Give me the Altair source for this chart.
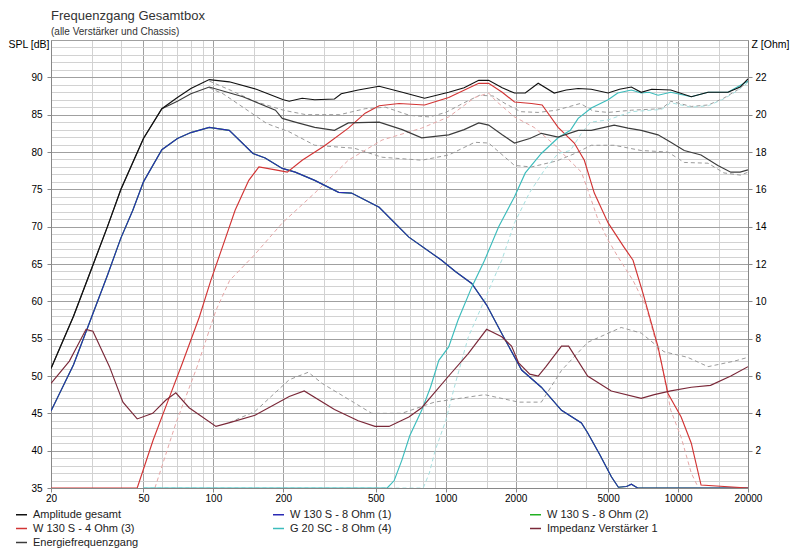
import altair as alt
import pandas as pd

# ---------------- data ----------------
SERIES = ["Amplitude gesamt", "W 130 S - 8 Ohm (1)", "W 130 S - 8 Ohm (2)",
          "W 130 S - 4 Ohm (3)", "G 20 SC - 8 Ohm (4)", "Impedanz Verstärker 1",
          "Energiefrequenzgang"]
COLORS = ["#111111", "#2a2ab4", "#22b022", "#d23434", "#3cbcbc", "#7a2838", "#3c3c3c"]

AMP_F = [20, 25, 30, 35, 40, 50, 60, 70, 80, 96, 117, 153, 200, 212, 241, 273, 332, 355, 420, 517,
         650, 811, 1030, 1200, 1387, 1530, 1750, 1977, 2200, 2500, 2930, 3300, 3716, 4230, 5000,
         5600, 6296, 6940, 7700, 9305, 11400, 13460, 16400, 18500, 20000]
AMP_V = [51, 58, 64.5, 70, 75, 81.8, 85.8, 87.3, 88.5, 89.7, 89.4, 88.4, 87.0, 86.8, 87.2, 87.0, 87.1, 87.8, 88.3, 88.8,
         88.0, 87.2, 88.0, 88.6, 89.6, 89.6, 88.6, 87.9, 87.9, 89.2, 87.9, 88.3, 88.5, 88.4, 87.9,
         88.4, 88.7, 88.0, 88.4, 88.3, 87.4, 88.0, 88.0, 88.7, 89.8]

ENE_F = [20, 25, 30, 35, 40, 50, 60, 70, 80, 96, 134, 185, 198, 225, 273, 332, 381, 517, 650, 788,
         1030, 1200, 1387, 1530, 1750, 1977, 2300, 2579, 3046, 3716, 4230, 5310, 6090, 6940, 8200,
         9305, 10630, 12560, 14840, 16870, 18500, 20000]
ENE_V = [51, 58, 64.5, 70, 75, 81.8, 85.8, 86.8, 87.8, 88.7, 87.4, 85.6, 84.5, 84.0, 83.3, 82.9, 83.9, 84.0, 83.0, 81.9,
         82.3, 83.0, 83.9, 83.6, 82.3, 81.2, 81.8, 82.5, 82.0, 82.9, 82.9, 83.6, 83.2, 82.9, 82.3,
         81.3, 80.2, 79.6, 78.2, 77.3, 77.3, 77.6]

W1_F = [20, 25, 30, 35, 40, 45, 50, 60, 70, 80, 96, 117, 148, 167, 198, 225, 273, 346, 393, 517,
        694, 960, 1100, 1294, 1500, 1742, 2122, 2579, 3150, 3838, 4080, 4600, 5164, 5534, 6000,
        6296, 6700, 20000]
W1_V = [45.3, 51.5, 58, 63.5, 68.5, 72.2, 76, 80.3, 81.8, 82.6, 83.3, 82.9, 79.8, 79.2, 77.8, 77.3, 76.2, 74.6, 74.5, 72.6,
        68.6, 65.5, 64.0, 62.4, 59.5, 55.7, 50.8, 48.5, 45.4, 43.7, 42.4, 39.5, 36.5, 35.1, 35.2,
        35.5, 35.0, 35.0]

W3_F = [20, 47, 55, 64, 73.5, 87, 97.5, 110, 124, 142, 157, 185, 208, 241, 300, 381, 450, 517,
        630, 811, 1030, 1387, 1530, 1750, 1977, 2340, 2600, 3046, 3575, 3950, 4360, 5000, 5840,
        6400, 7060, 8200, 9040, 10310, 11400, 12560, 20000]
W3_V = [35, 35, 41.4, 46.8, 51.7, 57.9, 62.8, 67.5, 72.2, 76.2, 78.0, 77.6, 77.3, 78.9, 80.8, 83.2, 85.2, 86.2,
        86.5, 86.3, 87.3, 89.2, 89.2, 88.0, 86.7, 86.5, 86.3, 83.3, 81.2, 78.9, 74.5, 70.5, 67.3,
        65.5, 61.1, 53.9, 47.7, 44.5, 41.0, 35.4, 35.0]

G4_F = [50, 560, 600, 647, 700, 788, 860, 934, 1030, 1130, 1294, 1470, 1690, 1977, 2200, 2579,
        3046, 3440, 3716, 4230, 5000, 5500, 6296, 6940, 7500, 8200, 9305, 11400, 13460, 16400, 20000]
G4_V = [35, 35, 36, 38.7, 42, 45.4, 48.5, 52.1, 53.9, 57.5, 61.9, 65.5, 70, 74, 77.2, 79.8,
        81.9, 82.9, 84.5, 85.9, 87.0, 87.9, 88.3, 87.9, 88.0, 87.6, 88.0, 87.4, 88.0, 88.0, 89.5]

IMP_F = [20, 24, 28.3, 30.3, 35.7, 40.8, 47, 54.8, 62.3, 68.9, 78.6, 102.6, 117.5, 151, 212, 246,
         332, 420, 496, 570, 694, 788, 1030, 1250, 1500, 1742, 1920, 2060, 2300, 2500, 2700, 3150,
         3380, 4080, 5160, 6940, 7900, 9305, 11400, 13800, 16870, 20000]
IMP_Z = [5.6, 6.8, 8.5, 8.4, 6.5, 4.6, 3.7, 4.0, 4.7, 5.1, 4.3, 3.3, 3.5, 3.9, 4.9, 5.2,
         4.2, 3.6, 3.3, 3.3, 3.8, 4.3, 6.0, 7.2, 8.5, 8.1, 7.6, 6.7, 6.1, 6.0, 6.5, 7.6,
         7.6, 6.0, 5.2, 4.8, 5.0, 5.2, 5.4, 5.5, 6.0, 6.5]

# dashed comparison curves (no legend entry)
DU_F = [96, 120, 150, 200, 250, 350, 450, 550, 700, 850, 1000, 1200, 1400, 1600, 1800, 2100, 2500,
        3000, 3800, 4300, 5000, 6300, 8500, 9300, 11400, 13500, 15700, 18000, 20000]
DU_V = [89.5, 88.2, 86.8, 85.6, 85.0, 85.0, 85.8, 86.0, 84.9, 84.7, 85.3, 86.6, 87.6, 87.5, 86.5, 85.4, 85.3,
        85.6, 86.5, 85.5, 85.3, 85.6, 85.8, 86.8, 86.1, 86.3, 87.2, 88.3, 89.4]

DL_F = [96, 110, 134, 170, 212, 273, 405, 532, 788, 1030, 1333, 1530, 1977, 2340, 3000, 3600, 4230,
        5310, 6940, 9040, 10630, 13460, 15740, 18600, 20000]
DL_V = [88.6, 87.8, 86.0, 83.8, 82.7, 80.9, 80.5, 79.3, 78.9, 79.6, 81.3, 81.2, 78.2, 78.0, 78.8, 79.8, 80.9,
        80.9, 80.2, 80.0, 78.6, 78.5, 77.2, 76.9, 77.3]

DP_F = [56, 69, 85, 102.6, 117.5, 150, 198, 273, 381, 532, 788, 1030, 1333, 1530, 1650, 1977, 2400,
        2930, 3380, 3838, 4230, 4530, 5000, 5500, 6400, 7300, 8437, 9305, 10310, 11400, 12200]
DP_V = [35, 43.7, 51.2, 58.8, 62.8, 66.2, 70.5, 74.5, 78.9, 81.6, 83.2, 84.7, 87.3, 87.9, 86.8, 84.7, 83.3,
        81.0, 79.0, 77.3, 73.6, 70.9, 68.2, 66.0, 62.8, 59.2, 52.1, 45.4, 41.8, 37.0, 35.1]

DC_F = [50, 800, 850, 900, 1000, 1100, 1250, 1470, 1742, 1977, 2290, 2660, 3046, 3440, 3838, 4200,
        5000, 6300, 8500, 9300, 11400, 13500, 15700, 18000, 20000]
DC_V = [35, 35, 37, 40, 44, 49, 55.2, 60.2, 65.5, 70.5, 74.5, 77.6, 79.8, 80.2, 82.5, 84.0,
        84.3, 85.4, 85.7, 86.6, 86.0, 86.2, 87.1, 88.2, 89.3]

DZ_F = [117, 151, 212, 256, 294, 400, 480, 647, 894, 1470, 2060, 2579, 3150, 4080, 5690, 6940, 8700,
        11000, 13460, 17500, 20000]
DZ_Z = [3.5, 4.1, 5.8, 6.2, 5.6, 4.6, 4.0, 4.0, 4.6, 5.0, 4.6, 4.6, 6.3, 7.8, 8.6, 8.3, 7.3,
        7.0, 6.5, 6.8, 7.0]

XGRID = [20, 30, 40, 50, 60, 70, 80, 90, 100, 150, 200, 300, 400, 500, 600, 700, 800, 900,
         1000, 1500, 2000, 3000, 4000, 5000, 6000, 7000, 8000, 9000, 10000, 15000, 20000]
XLAB = [20, 50, 100, 200, 500, 1000, 2000, 5000, 10000, 20000]
YGRID = list(range(35, 96))
ZTICKS = [2, 4, 6, 8, 10, 12, 14, 16, 18, 20, 22]

# ---------------- chart ----------------
FONT = "Liberation Sans, Arial, sans-serif"
xlab_arr = "[" + ",".join(str(v) for v in XLAB) + "]"
xtest = "indexof(" + xlab_arr + ", datum.value) >= 0"
MAJOR = "#a0a0a0"
MINOR = "#d2d2d2"

X = alt.X("f:Q", title=None,
          scale=alt.Scale(type="log", domain=[20, 20000], nice=False),
          axis=alt.Axis(values=XGRID, format="d", labelExpr=xtest + " ? datum.label : ''",
                        labelFlush=False, labelPadding=1, tickSize=4,
                        gridColor={"condition": {"test": xtest, "value": MAJOR}, "value": MINOR},
                        tickOpacity={"condition": {"test": xtest, "value": 1}, "value": 0}))

ytest = "datum.value % 5 == 0"
Y = alt.Y("v:Q", scale=alt.Scale(domain=[35, 95], nice=False, zero=False),
          axis=alt.Axis(values=YGRID, title="SPL [dB]", titleAngle=0, titleAlign="right",
                        titleBaseline="middle", titleX=-2, titleY=4, titleFontSize=10.5,
                        titleFontWeight="normal",
                        labelExpr=ytest + " && datum.value < 95 ? datum.label : ''",
                        labelPadding=5, tickSize=4,
                        gridColor={"condition": {"test": ytest, "value": MAJOR}, "value": MINOR},
                        tickOpacity={"condition": {"test": ytest + " && datum.value < 95", "value": 1}, "value": 0}))

Z = alt.Y("z:Q", scale=alt.Scale(domain=[0, 24], nice=False),
          axis=alt.Axis(orient="right", values=ZTICKS, grid=False, title="Z [Ohm]", titleAngle=0,
                        titleAlign="left", titleBaseline="middle", titleX=3, titleY=4,
                        titleFontSize=10.5, titleFontWeight="normal",
                        labelPadding=3, tickSize=4))

COLOR = alt.Color("series:N", scale=alt.Scale(domain=SERIES, range=COLORS),
                  legend=alt.Legend(orient="none", legendX=-36, legendY=468, columns=3,
                                    direction="horizontal",
                                    gridAlign="all", columnPadding=126, rowPadding=2,
                                    symbolType="stroke", symbolSize=121, symbolStrokeWidth=1.5,
                                    labelFont=FONT, labelFontSize=11, labelColor="#222222",
                                    labelOffset=5, labelLimit=300, title=None, padding=0))


def solid(f, v, name, col="v", enc=None, width=1.15):
    df = pd.DataFrame({"f": f, col: v, "series": name})
    return alt.Chart(df).mark_line(strokeWidth=width, clip=True).encode(
        x=X, y=enc if enc is not None else Y, color=COLOR)


def dashed(f, v, stroke, col="v", enc=None):
    df = pd.DataFrame({"f": f, col: v})
    return alt.Chart(df).mark_line(strokeWidth=1, strokeDash=[4, 3], stroke=stroke, clip=True).encode(
        x=X, y=enc if enc is not None else Y)


db_layers = alt.layer(
    dashed(DU_F, DU_V, "#9a9a9a"),
    dashed(DL_F, DL_V, "#9a9a9a"),
    dashed(DP_F, DP_V, "#e6a6a6"),
    dashed(DC_F, DC_V, "#a6e0e0"),
    solid(W1_F, W1_V, SERIES[2]),
    solid(W1_F, W1_V, SERIES[1]),
    solid(W3_F, W3_V, SERIES[3]),
    solid(G4_F, G4_V, SERIES[4]),
    solid(ENE_F, ENE_V, SERIES[6]),
    solid(AMP_F, AMP_V, SERIES[0]),
)

z_layers = alt.layer(
    dashed(DZ_F, DZ_Z, "#9a9a9a", col="z", enc=Z),
    solid(IMP_F, IMP_Z, SERIES[5], col="z", enc=Z),
)

chart = alt.layer(db_layers, z_layers).resolve_scale(y="independent").properties(
    width=697, height=448,
    autosize=alt.AutoSizeParams(type="none"),
    padding={"left": 43, "top": 32, "right": 44, "bottom": 60},
    title=alt.TitleParams(text="Frequenzgang Gesamtbox",
                          subtitle="(alle Verstärker und Chassis)",
                          anchor="start", frame="group", font=FONT, fontSize=13, fontWeight="normal",
                          color="#333333", subtitleFont=FONT, subtitleFontSize=10,
                          subtitleColor="#333333", subtitlePadding=4, offset=2),
).configure_view(stroke="#8a8a8a", strokeWidth=1).configure_axis(
    labelFont=FONT, labelFontSize=11, labelColor="#222222", titleFont=FONT, titleFontSize=10.5,
    titleFontWeight="normal", titleColor="#222222", domain=False, tickColor="#444444",
    gridWidth=1, tickWidth=1
).configure(background="white")

chart.save("out.html", embed_options={"renderer": "svg", "actions": False})
